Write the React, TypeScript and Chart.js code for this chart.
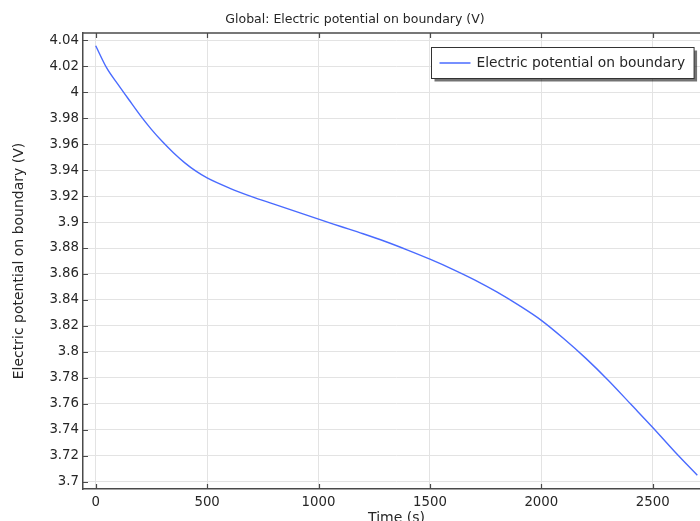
import React, { useEffect, useRef } from "react";
import { Chart, registerables } from "chart.js";

Chart.register(...registerables);

const TIME_S = [0, 50, 100, 150, 200, 250, 300, 350, 400, 450, 500, 600, 700, 800, 900, 1000, 1100, 1200, 1300, 1400, 1500, 1600, 1700, 1800, 1900, 2000, 2100, 2200, 2300, 2400, 2500, 2600, 2700];
const POTENTIAL_V = [4.0358, 4.0185, 4.006, 3.994, 3.9822, 3.9714, 3.9618, 3.9532, 3.9456, 3.9392, 3.934, 3.9262, 3.9196, 3.9138, 3.908, 3.9022, 3.8966, 3.891, 3.885, 3.8784, 3.8714, 3.8638, 3.8555, 3.8462, 3.8358, 3.8243, 3.8103, 3.795, 3.7782, 3.76, 3.7418, 3.7229, 3.705];
const X_TICKS = [0, 500, 1000, 1500, 2000, 2500];
const Y_TICKS = [3.7, 3.72, 3.74, 3.76, 3.78, 3.8, 3.82, 3.84, 3.86, 3.88, 3.9, 3.92, 3.94, 3.96, 3.98, 4.0, 4.02, 4.04];
const X_RANGE = [-57, 2757];
const Y_RANGE = [3.6944, 4.0456];

const TITLE = "Global: Electric potential on boundary (V)";
const SERIES_LABEL = "Electric potential on boundary";
const X_TITLE = "Time (s)";
const Y_TITLE = "Electric potential on boundary (V)";

const FONT = "'DejaVu Sans', sans-serif";
const LINE_COLOR = "#4a6bff";
const TEXT_COLOR = "#262626";
const GRID_COLOR = "#e3e3e3";
const AXIS_COLOR = "#4a4a4a";

const framePlugin = {
  id: "frame",
  afterDatasetsDraw(chart: any) {
    const { ctx, chartArea: a, scales } = chart;
    ctx.save();
    ctx.strokeStyle = AXIS_COLOR;
    ctx.lineWidth = 1.5;
    ctx.beginPath();
    ctx.moveTo(a.left, a.top);
    ctx.lineTo(a.right, a.top);
    ctx.stroke();
    ctx.lineWidth = 1.2;
    ctx.beginPath();
    for (const v of X_TICKS) {
      const x = Math.round(scales.x.getPixelForValue(v)) + 0.5;
      ctx.moveTo(x, a.top);
      ctx.lineTo(x, a.top + 5);
      ctx.moveTo(x, a.bottom);
      ctx.lineTo(x, a.bottom - 5);
    }
    for (const v of Y_TICKS) {
      const y = Math.round(scales.y.getPixelForValue(v)) + 0.5;
      ctx.moveTo(a.left, y);
      ctx.lineTo(a.left + 5, y);
    }
    ctx.stroke();
    ctx.restore();
  },
};

const legendPlugin = {
  id: "boxLegend",
  afterDraw(chart: any) {
    const { ctx } = chart;
    ctx.save();
    ctx.font = `13.8px ${FONT}`;
    const tw = ctx.measureText(SERIES_LABEL).width;
    const left = 431.5;
    const top = 47.5;
    const w = 8 + 31 + 6 + tw + 9;
    const h = 31;
    ctx.fillStyle = "rgba(0,0,0,0.55)";
    ctx.fillRect(left + 3, top + 3, w, h);
    ctx.fillStyle = "#fff";
    ctx.fillRect(left, top, w, h);
    ctx.strokeStyle = "#333";
    ctx.lineWidth = 1;
    ctx.strokeRect(left, top, w, h);
    ctx.strokeStyle = LINE_COLOR;
    ctx.lineWidth = 1.5;
    ctx.beginPath();
    ctx.moveTo(left + 8, top + 15.5);
    ctx.lineTo(left + 39, top + 15.5);
    ctx.stroke();
    ctx.fillStyle = TEXT_COLOR;
    ctx.textBaseline = "middle";
    ctx.textAlign = "left";
    ctx.fillText(SERIES_LABEL, left + 45, top + 15.5);
    ctx.restore();
  },
};

function fmt(v: number) {
  return String(Number(v.toFixed(2)));
}

export default function App() {
  const ref = useRef<HTMLCanvasElement | null>(null);
  useEffect(() => {
    if (!ref.current) return;
    const chart = new Chart(ref.current, {
      type: "line",
      data: {
        datasets: [
          {
            label: SERIES_LABEL,
            data: TIME_S.map((t, i) => ({ x: t, y: POTENTIAL_V[i] })),
            borderColor: LINE_COLOR,
            borderWidth: 1.4,
            pointRadius: 0,
            cubicInterpolationMode: "monotone",
            fill: false,
          },
        ],
      },
      options: {
        responsive: false,
        animation: false,
        devicePixelRatio: 1,
        layout: { padding: 0 },
        plugins: {
          legend: { display: false },
          tooltip: { enabled: false },
          title: {
            display: true,
            text: TITLE,
            color: TEXT_COLOR,
            font: { family: FONT, size: 12.5, weight: "normal" },
            padding: { top: 12, bottom: 6 },
          },
        },
        scales: {
          x: {
            type: "linear",
            min: X_RANGE[0],
            max: X_RANGE[1],
            afterBuildTicks: (s: any) => {
              s.ticks = X_TICKS.map((v) => ({ value: v }));
            },
            afterFit: (s: any) => {
              s.height = 51;
            },
            ticks: {
              color: TEXT_COLOR,
              font: { family: FONT, size: 13.3 },
              padding: 6,
              maxRotation: 0,
              callback: (v: any) => fmt(Number(v)),
            },
            grid: { color: GRID_COLOR, drawTicks: false, lineWidth: 1 },
            border: { display: true, color: AXIS_COLOR, width: 1.5 },
            title: {
              display: true,
              text: X_TITLE,
              color: TEXT_COLOR,
              font: { family: FONT, size: 14 },
              padding: { top: 0, bottom: 13.6 },
            },
          },
          y: {
            type: "linear",
            min: Y_RANGE[0],
            max: Y_RANGE[1],
            afterBuildTicks: (s: any) => {
              s.ticks = Y_TICKS.map((v) => ({ value: v }));
            },
            afterFit: (s: any) => {
              s.width = 83;
            },
            ticks: {
              color: TEXT_COLOR,
              font: { family: FONT, size: 13.3 },
              padding: 4,
              callback: (v: any) => fmt(Number(v)),
            },
            grid: { color: GRID_COLOR, drawTicks: false, lineWidth: 1 },
            border: { display: true, color: AXIS_COLOR, width: 1.5 },
            title: {
              display: true,
              text: Y_TITLE,
              color: TEXT_COLOR,
              font: { family: FONT, size: 14 },
              padding: { top: 11, bottom: 0 },
            },
          },
        },
      },
      plugins: [framePlugin, legendPlugin],
    } as any);
    return () => chart.destroy();
  }, []);

  return (
    <div
      style={{
        position: "absolute",
        left: 0,
        top: 0,
        width: 700,
        height: 521,
        overflow: "hidden",
        background: "#fff",
      }}
    >
      <canvas ref={ref} width={710} height={540} style={{ display: "block", width: 710, height: 540 }} />
    </div>
  );
}
